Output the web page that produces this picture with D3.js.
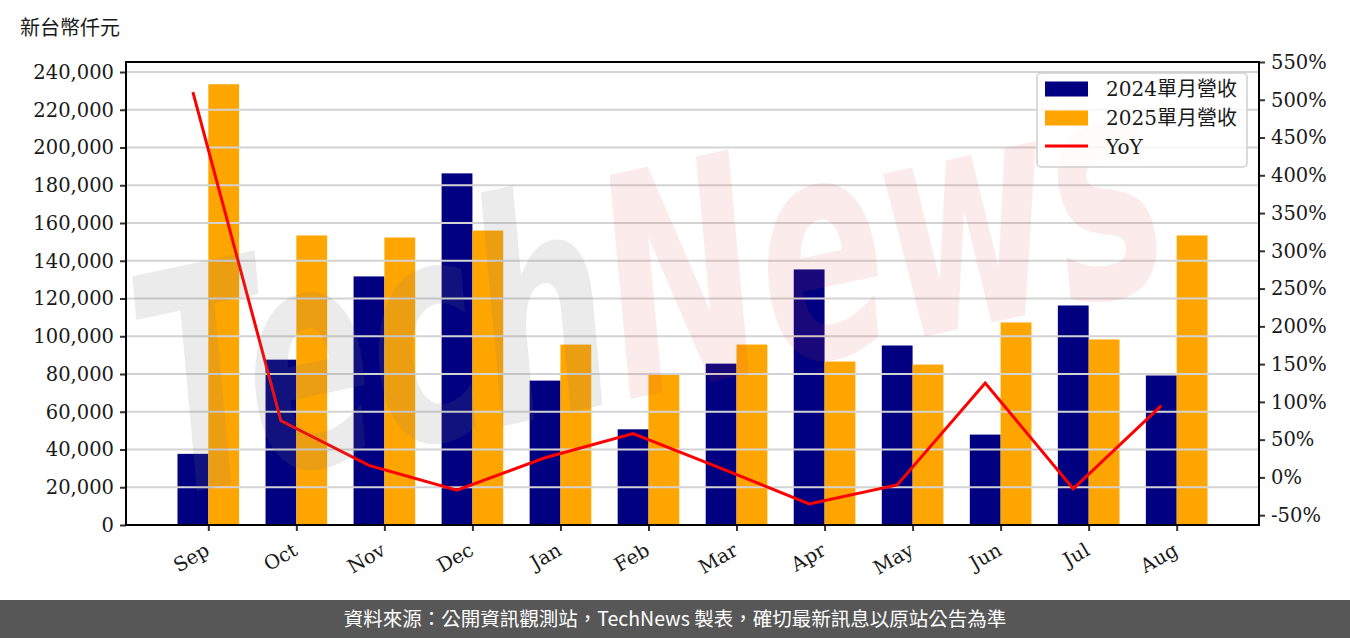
<!DOCTYPE html>
<html><head><meta charset="utf-8">
<script src="https://cdn.jsdelivr.net/npm/d3@7"></script>
<style>
body{margin:0;background:#fff;}
svg{display:block;}
</style></head>
<body>
<svg id="c" width="1350" height="638"></svg>
<script>
const months = ["Sep","Oct","Nov","Dec","Jan","Feb","Mar","Apr","May","Jun","Jul","Aug"];
const rev2024 = [37700, 87600, 131700, 186300, 76500, 50700, 85500, 135400, 95100, 47900, 116300, 79200];
const rev2025 = [233500, 153400, 152300, 156000, 95600, 79700, 95600, 86600, 85000, 107300, 98300, 153400];
const yoy = [510, 75, 16, -17, 26, 58, 12, -35, -10, 125, -15, 95];
const leftTicks = d3.range(0, 240001, 20000);
const rightTicks = d3.range(-50, 551, 50);
const seriesNames = ["2024單月營收", "2025單月營收", "YoY"];

const svg = d3.select("#c");
const L = 126, R = 1259, T = 62, B = 525;
const serif = "'DejaVu Serif', 'Liberation Serif', serif";
const cjk = "'DejaVu Serif', 'Noto Sans CJK TC', sans-serif";

const x = d3.scaleLinear().domain([-0.935, 11.935]).range([L, R]);
const y = d3.scaleLinear().domain([0, 245300]).range([B, T]);
const y2 = d3.scaleLinear().domain([-63, 550]).range([B, T]);
const bw = 0.35;

// bars
const g = svg.append("g");
g.selectAll("rect.a").data(rev2024).join("rect")
  .attr("x", (d,i)=>x(i-bw)).attr("width", (d,i)=>x(i)-x(i-bw))
  .attr("y", d=>y(d)).attr("height", d=>y(0)-y(d)).attr("fill", "#000080");
g.selectAll("rect.b").data(rev2025).join("rect")
  .attr("x", (d,i)=>x(i)).attr("width", (d,i)=>x(i+bw)-x(i))
  .attr("y", d=>y(d)).attr("height", d=>y(0)-y(d)).attr("fill", "#FFA500");

// grid
svg.append("g").selectAll("line").data(leftTicks).join("line")
  .attr("x1", L).attr("x2", R).attr("y1", d=>y(d)).attr("y2", d=>y(d))
  .attr("stroke", "#d3d3d3").attr("stroke-width", 2);

// line
const line = d3.line().x((d,i)=>x(i-bw/2)).y(d=>y2(d));
svg.append("path").datum(yoy).attr("d", line).attr("fill","none")
  .attr("stroke","#ff0000").attr("stroke-width",3);

// watermark
const wm = svg.append("text")
  .attr("transform","translate(165,498) rotate(-12) scale(1,1.65)")
  .attr("font-family","'DejaVu Sans', sans-serif").attr("font-weight","bold").attr("font-style","italic")
  .attr("font-size", 186);
wm.append("tspan").text("Tech").attr("fill","rgba(120,120,120,0.15)");
wm.append("tspan").text("News").attr("fill","rgba(220,70,70,0.11)");

// axes
const axL = d3.axisLeft(y).tickValues(leftTicks).tickSize(6).tickPadding(6).tickFormat(d3.format(","));
const gL = svg.append("g").attr("transform",`translate(${L},0)`).call(axL);
const axR = d3.axisRight(y2).tickValues(rightTicks).tickSize(6).tickPadding(6).tickFormat(d=>d+"%");
const gR = svg.append("g").attr("transform",`translate(${R},0)`).call(axR);
const axB = d3.axisBottom(x).tickValues(d3.range(12)).tickSize(6).tickFormat(i=>months[i]);
const gB = svg.append("g").attr("transform",`translate(0,${B})`).call(axB);
[gL,gR,gB].forEach(a=>{
  a.select(".domain").remove();
  a.selectAll(".tick line").attr("stroke","#333").attr("stroke-width",2);
  a.selectAll("text").attr("font-family",serif).attr("font-size",19.5).attr("fill","#1a1a1a");
});
gB.selectAll(".tick text").attr("text-anchor","end").attr("dy",0).attr("y",0)
  .attr("transform","translate(2,29) rotate(-30)").attr("font-size",19.5);

// frame
svg.append("rect").attr("x",L).attr("y",T).attr("width",R-L).attr("height",B-T)
  .attr("fill","none").attr("stroke","#000").attr("stroke-width",2);

// unit label
svg.append("text").attr("x",20).attr("y",35).text("新台幣仟元")
  .attr("font-family",cjk).attr("font-size",20).attr("fill","#1a1a1a");

// legend
const lg = svg.append("g");
lg.append("rect").attr("x",1037).attr("y",73).attr("width",210).attr("height",94).attr("rx",4)
  .attr("fill","rgba(255,255,255,0.8)").attr("stroke","#d0d0d0").attr("stroke-width",1.5);
const colors = ["#000080","#FFA500","#ff0000"];
seriesNames.forEach((n,i)=>{
  const cy = 89 + i*29;
  if(i<2) lg.append("rect").attr("x",1045).attr("y",cy-7.5).attr("width",43).attr("height",15).attr("fill",colors[i]);
  else lg.append("line").attr("x1",1045).attr("x2",1088).attr("y1",cy-1).attr("y2",cy-1).attr("stroke",colors[i]).attr("stroke-width",3);
  lg.append("text").attr("x",1106).attr("y",cy+7).text(n)
    .attr("font-family",cjk).attr("font-size",20).attr("fill","#1a1a1a");
});

// footer
svg.append("rect").attr("x",0).attr("y",600).attr("width",1350).attr("height",38).attr("fill","#575757");
svg.append("text").attr("x",675).attr("y",626).attr("text-anchor","middle")
  .text("資料來源：公開資訊觀測站，TechNews 製表，確切最新訊息以原站公告為準")
  .attr("font-family","'Noto Sans CJK TC', sans-serif").attr("font-size",19.5).attr("fill","#fff");
</script>
</body></html>
